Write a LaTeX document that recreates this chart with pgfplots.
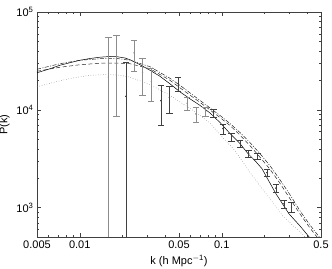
\documentclass[border=0pt]{standalone}
\usepackage{fontspec}
\setmainfont{Liberation Sans}
\usepackage{pgfplots}
\pgfplotsset{compat=1.18}
\begin{document}
\begin{tikzpicture}[font=\fontsize{11}{13}\selectfont]
\begin{axis}[name=ax,
  scale only axis, width=284pt, height=225pt,
  xmode=log, ymode=log,
  xmin=0.005, xmax=0.5, ymin=500, ymax=100000,
  xtick={0.005,0.01,0.05,0.1,0.5},
  xticklabels={0.005,0.01,0.05,0.1,0.5},
  minor xtick={0.006,0.007,0.008,0.009,0.02,0.03,0.04,0.06,0.07,0.08,0.09,0.2,0.3,0.4},
  ytick={1000,10000,100000},
  yticklabels={10\textsuperscript{3},10\textsuperscript{4},10\textsuperscript{5}},
  minor ytick={600,700,800,900,2000,3000,4000,5000,6000,7000,8000,9000,20000,30000,40000,50000,60000,70000,80000,90000},
  tick align=inside, major tick length=4pt, minor tick length=2pt,
  axis line style={black!75}, tick style={black!75},
  xlabel={k (h Mpc\textsuperscript{$-$1})}, ylabel={P(k)},
  clip=true,
]
% solid
\addplot[black, line width=0.5pt] coordinates {
(0.005,23900)(0.00617,26280)(0.00726,28550)(0.00854,30290)(0.01004,32100)(0.0118,33450)(0.0139,34500)(0.01633,35070)(0.0183,34900)(0.02083,33850)(0.0226,32510)(0.02657,28890)(0.03125,25360)(0.0367,22010)(0.0432,18430)(0.0508,15260)(0.0598,12930)(0.0703,11090)(0.0826,9282)(0.0972,7413)(0.1143,5715)(0.1344,4511)(0.1531,3561)(0.1714,3020)(0.1921,2498)(0.2083,2018)(0.241,1383)(0.2977,862)(0.3557,649)(0.418,489)};
% dash-dot
\addplot[black!85, line width=0.5pt, dash pattern=on 4pt off 1.5pt on 1pt off 1.5pt] coordinates {
(0.005,25970)(0.00726,29580)(0.01004,32100)(0.0139,33290)(0.0183,33450)(0.0226,32100)(0.03125,27560)(0.0432,20990)(0.0508,17780)(0.0703,12470)(0.0972,8750)(0.1143,7241)(0.1344,5853)(0.158,4619)(0.1858,3563)(0.2186,2682)(0.257,1925)(0.3027,1351)(0.3557,925)(0.418,664)(0.492,489)};
% dashed
\addplot[black!85, line width=0.5pt, dash pattern=on 4pt off 2.5pt] coordinates {
(0.005,24770)(0.00726,27230)(0.01004,28890)(0.0139,29900)(0.0183,30080)(0.0226,29580)(0.03125,26280)(0.0432,20020)(0.0508,16770)(0.0703,11900)(0.0972,8343)(0.1143,6910)(0.1344,5518)(0.158,4303)(0.1858,3279)(0.2186,2468)(0.257,1773)(0.3027,1229)(0.3557,862)(0.418,619)(0.474,489)};
% dotted
\addplot[black!55, line width=0.5pt, dotted] coordinates {
(0.005,17170)(0.00617,18650)(0.00726,19790)(0.00854,20840)(0.01004,21750)(0.0118,22430)(0.0139,22800)(0.01633,22910)(0.0192,22530)(0.0226,21490)(0.02657,19790)(0.03125,17990)(0.0367,15990)(0.0432,14040)(0.0508,12040)(0.0598,10320)(0.0703,8750)(0.0826,7327)(0.1017,5200)(0.124,3823)(0.1548,2382)(0.1858,1671)(0.2186,1229)(0.2657,841)(0.3027,697)(0.3557,563)(0.3917,489)};
% gray data
\addplot[black!45, only marks, mark=*, mark size=0.45pt,
  error bars/.cd, y dir=both, y explicit, error mark=|,
  error mark options={black!45, mark size=3.2pt, line width=0.45pt},
  error bar style={black!45, line width=0.45pt}] coordinates {
(0.0159,21650) += (0,33050) -= (0,21550)
(0.0182,33120) += (0,24530) -= (0,24530)
(0.0241,38260) += (0,13310) -= (0,13310)
(0.0277,23985) += (0,9945) -= (0,9945)
(0.0319,19485) += (0,7305) -= (0,7305)
(0.0571,11670) += (0,1820) -= (0,1820)
(0.0656,9060) += (0,1590) -= (0,1590)
(0.0771,9550) += (0,950) -= (0,950)
};
% dark data
\addplot[black!75, only marks, mark=*, mark size=0.45pt,
  error bars/.cd, y dir=both, y explicit, error mark=|,
  error mark options={black!75, mark size=3.2pt, line width=0.4pt},
  error bar style={black!75, line width=0.4pt}] coordinates {
(0.0211,13710) += (0,16940) -= (0,13610)
(0.0372,12400) += (0,5380) -= (0,5380)
(0.0428,13350) += (0,4025) -= (0,4025)
(0.0494,18445) += (0,2895) -= (0,2895)
(0.0873,9325) += (0,925) -= (0,925)
(0.1017,6430) += (0,760) -= (0,760)
(0.1175,5290) += (0,525) -= (0,525)
(0.135,4500) += (0,400) -= (0,400)
(0.1548,3575) += (0,312) -= (0,312)
(0.179,3383) += (0,240) -= (0,240)
(0.2075,2281) += (0,199) -= (0,199)
(0.240,1583) += (0,157) -= (0,157)
(0.274,1093) += (0,107) -= (0,107)
(0.310,1007) += (0,119) -= (0,119)
};
\end{axis}
\pgfresetboundingbox
\path[use as bounding box] (ax.south west) ++(-37pt,-31pt) rectangle ([xshift=11pt,yshift=12pt]ax.north east);
\end{tikzpicture}
\end{document}
